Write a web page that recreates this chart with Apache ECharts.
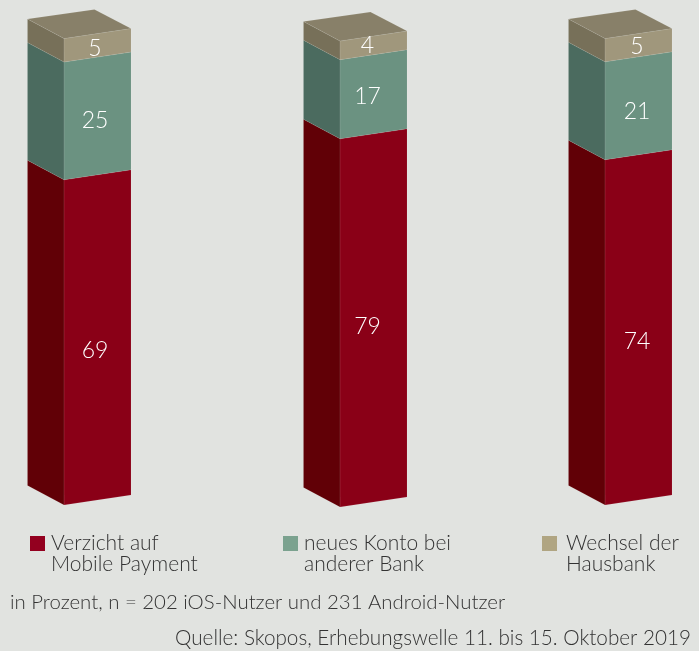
<!DOCTYPE html>
<html><head><meta charset="utf-8">
<style>html,body{margin:0;padding:0;background:#e1e3e0}#c{width:699px;height:651px}</style>
<script src="https://cdn.jsdelivr.net/npm/echarts@6/dist/echarts.min.js"></script>
</head><body><div id="c"></div>
<script>
const categories = ['iOS', 'Android', 'Gesamt'];
const seriesNames = ['Verzicht auf\nMobile Payment', 'neues Konto bei\nanderer Bank', 'Wechsel der\nHausbank'];
const verzicht = [69, 79, 74];
const neuesKonto = [25, 17, 21];
const wechsel = [5, 4, 5];
const sourceText = 'Quelle: Skopos, Erhebungswelle 11. bis 15. Oktober 2019';
const noteText = 'in Prozent, n = 202 iOS-Nutzer und 231 Android-Nutzer';

const FONT = 'Lato, "Open Sans", sans-serif';
const values = [verzicht, neuesKonto, wechsel];
const palette = [
  {legend:'#93001f', front:'#8a0017', side:'#610006', top:'#8a0017'},
  {legend:'#7ba28f', front:'#6b9281', side:'#4b6b5f', top:'#6b9281'},
  {legend:'#b0a582', front:'#a0977c', side:'#777059', top:'#888069'}
];
const grids = [
  {left:27.5, width:103.5, top:38.5, height:466.5},
  {left:303.5, width:103.5, top:41, height:466},
  {left:568.5, width:103.5, top:38.5, height:466.5}
];
const look = {sideShare:0.353, rise:10, labelDx:[-2.5,-6,-1.5],
  labelDy:[[13,5,3],[9,2,0],[14,6,1]]};

function renderSegment(si, gi){
  return function(params, api){
    const b = api.coord([api.value(0), api.value(1)]);
    const t = api.coord([api.value(0), api.value(2)]);
    const band = api.size([1,0])[0];
    const left = b[0]-band/2, right = b[0]+band/2;
    const fx = left + band*look.sideShare;
    const r = look.rise, yB = b[1], yT = t[1];
    const c = palette[si];
    const seam = {stroke:'rgba(255,255,255,0.12)', lineWidth:0.6};
    const kids = [
      {type:'polygon', shape:{points:[[left,yT-2*r+0.5],[fx,yT],[fx,yB],[left,yB-2*r+0.5]]}, style:{fill:c.side, ...seam}},
      {type:'polygon', shape:{points:[[fx,yT],[right,yT-r],[right,yB-r],[fx,yB]]}, style:{fill:c.front, ...seam}}
    ];
    if(si===values.length-1){
      kids.push({type:'polygon', shape:{points:[[left,yT-2*r+0.5],[left+right-fx,yT-3*r+1],[right,yT-r],[fx,yT]]}, style:{fill:c.top, ...seam}});
    }
    kids.push({type:'text', z2:10, style:{text:String(api.value(3)), x:(fx+right)/2+look.labelDx[gi],
      y:(yT+yB)/2-r/2+look.labelDy[gi][si],
      fill:'#fff', font:'300 23px '+FONT, align:'center', verticalAlign:'middle'}});
    return {type:'group', children:kids};
  };
}

const series = [];
categories.forEach(function(cat, gi){
  const total = values.reduce(function(s,a){return s+a[gi];},0);
  let acc = 0;
  values.forEach(function(arr, si){
    const from = acc/total*100; acc += arr[gi]; const to = acc/total*100;
    series.push({type:'custom', name:seriesNames[si], xAxisIndex:gi, yAxisIndex:gi, clip:false,
      itemStyle:{color:palette[si].legend}, renderItem:renderSegment(si,gi),
      encode:{x:0,y:[1,2]}, data:[[0,from,to,arr[gi]]]});
  });
});

const legendX = [30,283,542];
const legendExtra = [1,1,4];
const chart = echarts.init(document.getElementById('c'), null, {renderer:'canvas'});
chart.setOption({
  backgroundColor:'#e1e3e0', animation:false,
  grid: grids,
  xAxis: categories.map(function(c,i){return {gridIndex:i,type:'category',data:[c],show:false};}),
  yAxis: categories.map(function(c,i){return {gridIndex:i,type:'value',min:0,max:100,show:false};}),
  legend: seriesNames.map(function(n,i){return {
    left:legendX[i], top:512, padding:0, itemWidth:15, itemHeight:15, icon:'rect', selectedMode:false,
    formatter:function(name){return ' \n'+name;},
    data:[{name:n,itemStyle:{color:palette[i].legend}}],
    textStyle:{fontFamily:FONT, fontWeight:300, fontSize:21, lineHeight:21, color:'#333', padding:[0,0,0,legendExtra[i]]}
  };}),
  title:[
    {text:noteText, left:10, top:592, padding:0, textStyle:{fontFamily:FONT,fontWeight:300,fontSize:20.4,color:'#333'}},
    {text:sourceText, right:8, top:628, padding:0, textStyle:{fontFamily:FONT,fontWeight:300,fontSize:20.7,color:'#333'}}
  ],
  series: series
});
</script></body></html>
